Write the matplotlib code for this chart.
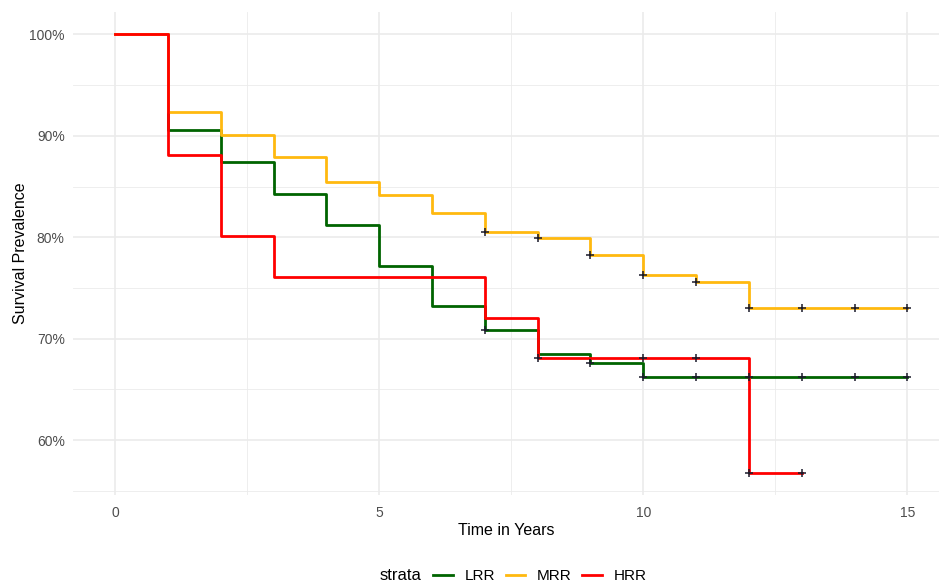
import numpy as np
import matplotlib
matplotlib.use("Agg")
import matplotlib.pyplot as plt
from matplotlib.lines import Line2D

# step survival estimates per stratum (time in years, survival fraction after the step)
strata = ["LRR", "MRR", "HRR"]
colors = ["#006400", "#FFB90F", "#FF0000"]

lrr_times = [0, 1, 2, 3, 4, 5, 6, 7, 8, 9, 10, 15]
lrr_surv = [1.000, 0.906, 0.874, 0.843, 0.812, 0.772, 0.732, 0.709, 0.685, 0.676, 0.662, 0.662]
lrr_censor = [7, 9, 10, 11, 12, 13, 14, 15]

mrr_times = [0, 1, 2, 3, 4, 5, 6, 7, 8, 9, 10, 11, 12, 15]
mrr_surv = [1.000, 0.923, 0.901, 0.879, 0.854, 0.842, 0.824, 0.805, 0.799, 0.783, 0.763, 0.756, 0.730, 0.730]
mrr_censor = [7, 8, 9, 10, 11, 12, 13, 14, 15]

hrr_times = [0, 1, 2, 3, 7, 8, 12, 13]
hrr_surv = [1.000, 0.881, 0.801, 0.761, 0.720, 0.681, 0.568, 0.568]
hrr_censor = [8, 10, 11, 12, 13]

x_ticks = [0, 5, 10, 15]
y_ticks = [0.6, 0.7, 0.8, 0.9, 1.0]
y_tick_labels = ["60%", "70%", "80%", "90%", "100%"]

plt.rcParams["font.family"] = ["Liberation Sans", "DejaVu Sans"]

fig = plt.figure(figsize=(9.39, 5.83), dpi=100)
W, H = 939, 583
left_px, right_px, top_px, bottom_px = 73, 939, 12, 495
ax = fig.add_axes([left_px / W, 1 - bottom_px / H, (right_px - left_px) / W, (bottom_px - top_px) / H])

ax.set_xlim(-0.8, 15.6)
ax.set_ylim(0.546, 1.022)

grid_c = "#EBEBEB"
for x in [2.5, 7.5, 12.5]:
    ax.axvline(x, color=grid_c, lw=0.6, zorder=0)
for x in x_ticks:
    ax.axvline(x, color=grid_c, lw=1.2, zorder=0)
for y in [0.55, 0.65, 0.75, 0.85, 0.95]:
    ax.axhline(y, color=grid_c, lw=0.6, zorder=0)
for y in y_ticks:
    ax.axhline(y, color=grid_c, lw=1.2, zorder=0)

series = [
    (lrr_times, lrr_surv, lrr_censor),
    (mrr_times, mrr_surv, mrr_censor),
    (hrr_times, hrr_surv, hrr_censor),
]
for (t, s, cens), c in zip(series, colors):
    t = np.array(t)
    s = np.array(s)
    ax.step(t, s, where="post", color=c, lw=2.0, zorder=3)
    # censor ticks sit on the curve value at that time
    cy = [s[np.searchsorted(t, ct, side="right") - 1] for ct in cens]
    ax.plot(cens, cy, ls="none", marker="+", ms=6, mew=1.1, color="#1a1a2a", zorder=4)

for side in ax.spines.values():
    side.set_visible(False)
ax.tick_params(length=0, colors="#4D4D4D", labelsize=10)
ax.set_xticks(x_ticks)
ax.set_xticklabels([str(v) for v in x_ticks])
ax.set_yticks(y_ticks)
ax.set_yticklabels(y_tick_labels)
ax.tick_params(axis="x", pad=8)
ax.tick_params(axis="y", pad=6)

ax.set_xlabel("Time in Years", fontsize=11.5, labelpad=2)
ax.set_ylabel("Survival Prevalence", fontsize=11.5, labelpad=1)

# legend along the bottom with the title placed to the left
fig.text(380 / W, 1 - 576 / H, "strata", fontsize=12, va="center", ha="left")
handles = [Line2D([0], [0], color=c, lw=2.0) for c in colors]
fig.legend(handles, strata, loc="center left", bbox_to_anchor=(433 / W, 1 - 576 / H),
           ncol=3, frameon=False, fontsize=11, handlelength=1.3,
           handletextpad=0.75, columnspacing=0.7, borderpad=0, borderaxespad=0)

fig.savefig("out.png", dpi=100)
plt.close(fig)
